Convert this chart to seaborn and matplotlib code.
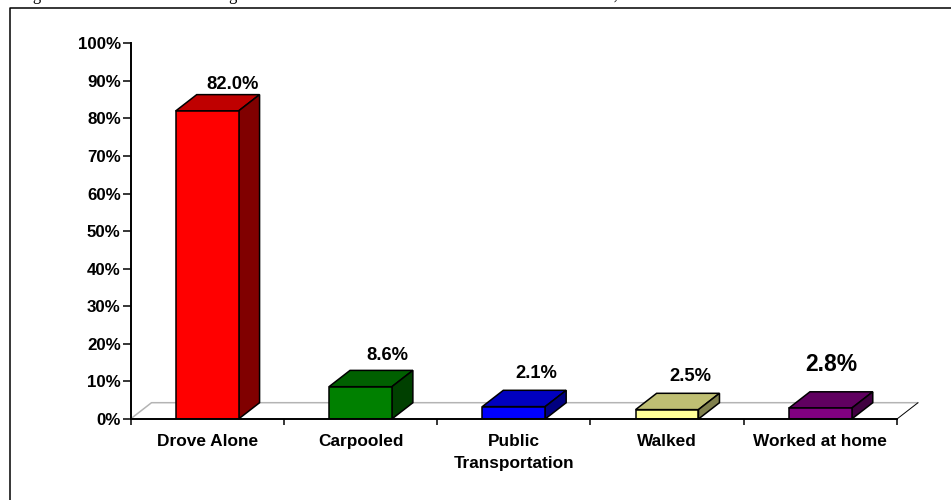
import matplotlib
matplotlib.use("Agg")
import matplotlib.pyplot as plt
import seaborn as sns
from matplotlib.colors import to_rgb
from matplotlib.lines import Line2D
from matplotlib.patches import Polygon

categories = ["Drove Alone", "Carpooled", "Public\nTransportation", "Walked", "Worked at home"]
bar_heights = [82.0, 8.6, 3.3, 2.5, 2.9]
bar_labels = ["82.0%", "8.6%", "2.1%", "2.5%", "2.8%"]
bar_colors = ["#ff0000", "#008000", "#0000ff", "#ffff99", "#800080"]
y_ticks = [0, 10, 20, 30, 40, 50, 60, 70, 80, 90, 100]
title_text = "Figure 3: Method of Commuting between Home and Work for Town of Clifton Residents, 2000"

# where the value labels sit, in pixels from the top centre of each bar
label_offsets = [(25.5, 26), (26.5, 31), (23, 33), (23.5, 33), (10.5, 44)]
label_sizes = [13.2, 13.2, 13.2, 13.2, 16.5]

W, H = 951, 500
LEFT, RIGHT, BOTTOM, TOP = 130.5, 897, 419, 43.3  # axes edges in pixels
DEPTH_X, DEPTH_Y = 21, 16.3  # 3d depth in pixels

sns.set_theme(style="ticks")
plt.rcParams["font.family"] = ["Liberation Sans", "DejaVu Sans"]

fig = plt.figure(figsize=(W / 100, H / 100), dpi=100, facecolor="white")
ax = fig.add_axes([LEFT / W, 1 - BOTTOM / H, (RIGHT - LEFT) / W, (BOTTOM - TOP) / H])

sns.barplot(x=categories, y=bar_heights, hue=categories, palette=bar_colors, legend=False,
            width=0.41, saturation=1, edgecolor="black", linewidth=1.1, ax=ax, zorder=4)

ax.set_xlim(-0.5, 4.5)
ax.set_ylim(0, 100)
ax.patch.set_alpha(0)

dx = DEPTH_X / (RIGHT - LEFT) * 5
dy = DEPTH_Y / (BOTTOM - TOP) * 100


def shade(color, factor):
    return tuple(c * factor for c in to_rgb(color))


# floor of the chart, behind the bars
ax.plot([-0.5, -0.5 + dx, 4.5 + dx], [0, dy, dy], color="#b4b4b4", lw=1.1, clip_on=False, zorder=1)
ax.plot([4.5, 4.5 + dx], [0, dy], color="black", lw=0.7, clip_on=False, zorder=1)

# top and side faces of each bar
for bar, color in zip(ax.patches, bar_colors):
    x0, x1 = bar.get_x(), bar.get_x() + bar.get_width()
    top = bar.get_height()
    top_face = [(x0, top), (x1, top), (x1 + dx, top + dy), (x0 + dx, top + dy)]
    side_face = [(x1, 0), (x1 + dx, dy), (x1 + dx, top + dy), (x1, top)]
    ax.add_patch(Polygon(top_face, fc=shade(color, 0.75), ec="black", lw=1.1, clip_on=False, zorder=3))
    ax.add_patch(Polygon(side_face, fc=shade(color, 0.5), ec="black", lw=1.1, clip_on=False, zorder=3))

for bar, text, offset, size in zip(ax.patches, bar_labels, label_offsets, label_sizes):
    ax.annotate(text, (bar.get_x() + bar.get_width() / 2, bar.get_height()), xytext=offset,
                textcoords="offset pixels", ha="center", va="center",
                fontsize=size, fontweight="bold", color="black", annotation_clip=False, zorder=6)

sns.despine(ax=ax)
for side in ["left", "bottom"]:
    ax.spines[side].set_linewidth(1.4)
    ax.spines[side].set_color("black")
    ax.spines[side].set_zorder(5)

ax.set_yticks(y_ticks)
ax.set_yticklabels([f"{t}%" for t in y_ticks], fontsize=12.2, fontweight="bold", color="black")
ax.set_xticks([i - 0.5 for i in range(6)], labels=[""] * 6)
ax.set_xticks(range(5), labels=categories, minor=True, fontsize=12.4, fontweight="bold",
              color="black", linespacing=1.55, va="top")
ax.tick_params(axis="y", length=5.5, width=1.1, pad=1.5, color="black")
ax.tick_params(axis="x", which="major", length=4.5, width=1.1, color="black")
ax.tick_params(axis="x", which="minor", length=0, pad=11)
ax.set_xlabel("")
ax.set_ylabel("")

# page frame, open on the right and the bottom
fig.add_artist(Line2D([9.5 / W, 9.5 / W, 1], [0, 1 - 7.5 / H, 1 - 7.5 / H], color="black", lw=1.1))

# caption, cut off by the top of the page
fig.text(19 / W, 1.0, title_text, fontsize=12, family="Liberation Serif", va="baseline", color="black")

fig.savefig("out.png", dpi=100)
